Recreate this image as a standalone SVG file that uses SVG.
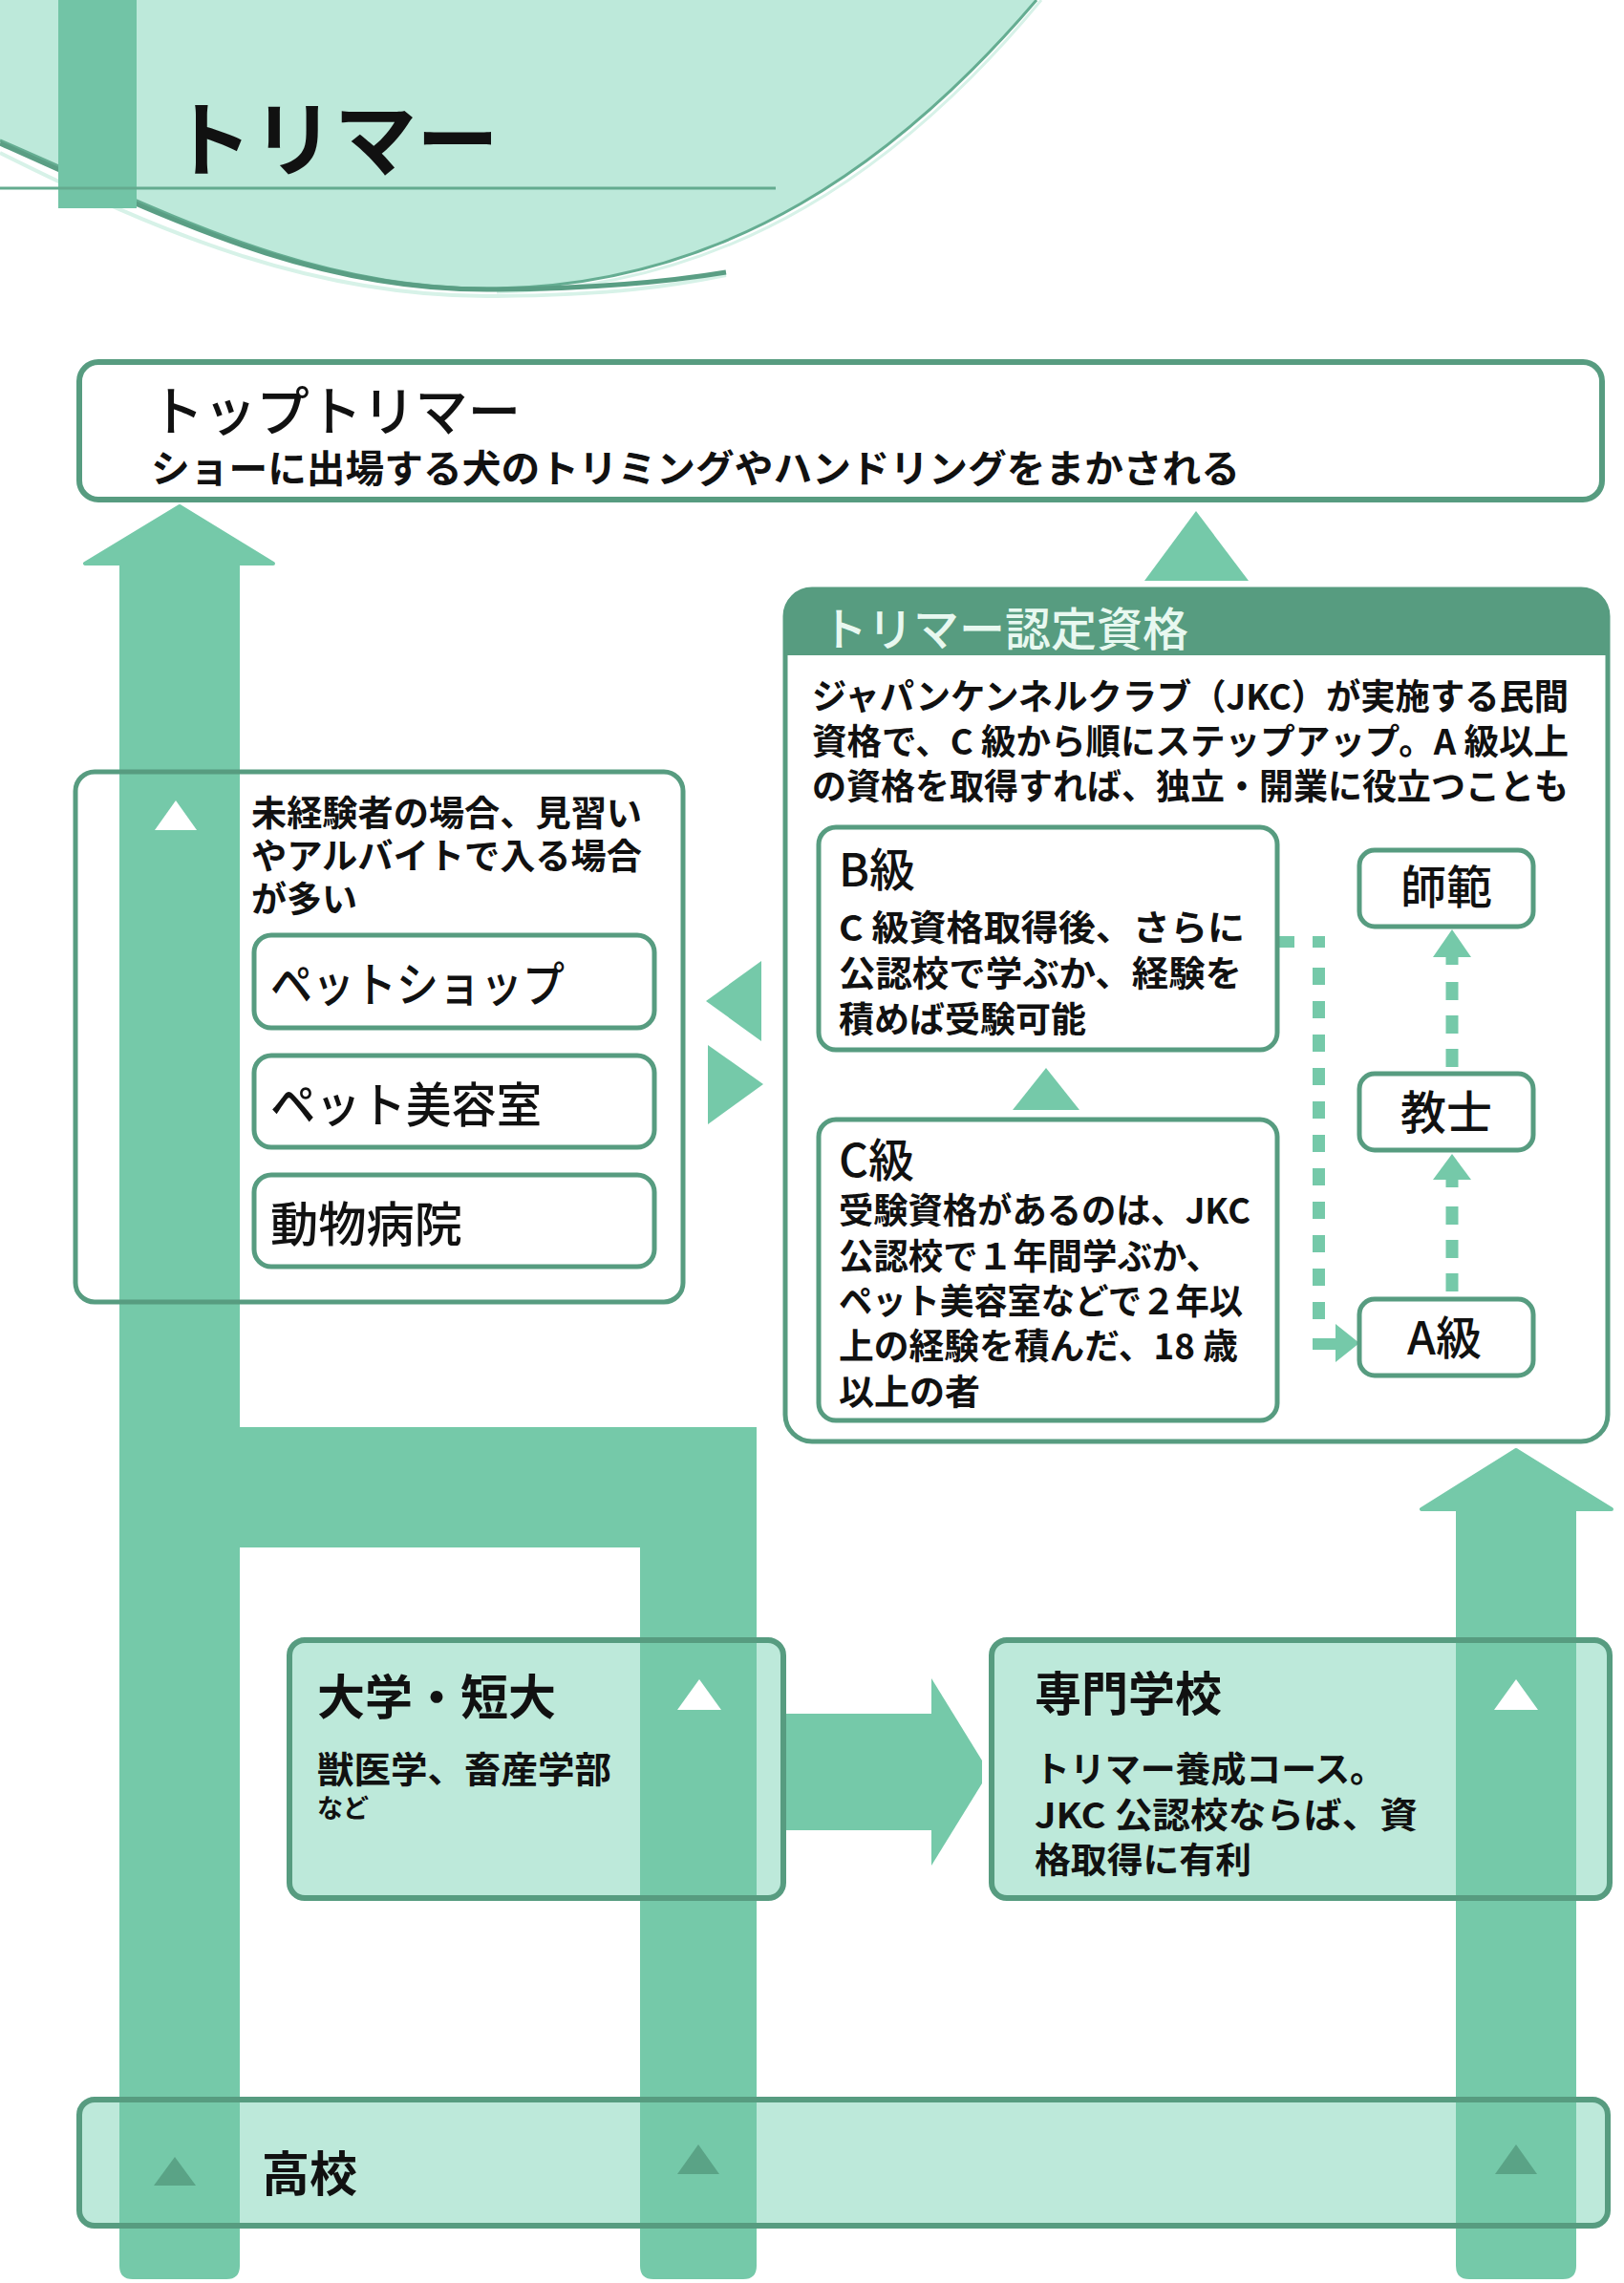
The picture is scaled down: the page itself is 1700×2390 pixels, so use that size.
<svg xmlns="http://www.w3.org/2000/svg" width="1700" height="2390" viewBox="0 0 1700 2390">
<style>
text{font-family:"Noto Sans CJK JP","Noto Sans CJK SC",sans-serif;fill:#111;}
.b{font-weight:700;}
.m{font-weight:500;}
.box{fill:#fff;stroke:#579c80;stroke-width:5;}
.gbox{fill:#bde9da;}
.gstroke{fill:none;stroke:#579c80;stroke-width:6;}
.pil{fill:#75c9a9;}
.dash{fill:#75c9a9;}
.wt{fill:#fff;}
.dt{fill:#5aa386;}
</style>
<rect width="1700" height="2390" fill="#fff"/>
<g id="header">
<path d="M0,0 L0,147 C180,225 330,305 520,302 C760,298 940,170 1085,0 Z" fill="#bde9da"/>
<path d="M0,160 C170,245 330,312 520,310 C640,309 700,300 760,288" fill="none" stroke="#d7f2e8" stroke-width="4"/>
<path d="M0,147 C180,225 330,305 520,302 C760,298 940,170 1085,0" fill="none" stroke="#65ad92" stroke-width="3"/>
<path d="M1090,0 C945,175 765,302 520,306" fill="none" stroke="#d7f2e8" stroke-width="3"/>
<path d="M0,150 C180,230 330,306 520,303 C620,302 700,295 760,285" fill="none" stroke="#5a9e84" stroke-width="5"/>
<rect x="61" y="0" width="82" height="218" fill="#72c4a6"/>
<line x1="0" y1="197" x2="812" y2="197" stroke="#64ab8f" stroke-width="3"/>
<text x="178" y="178" font-size="86" class="b">トリマー</text>
</g>
<g id="boxes-back">
<rect x="303" y="1717" width="517" height="270" rx="16" class="gbox"/>
<rect x="1038" y="1717" width="647" height="270" rx="16" class="gbox"/>
<rect x="83" y="2198" width="1600" height="132" rx="16" class="gbox"/>
</g>
<g id="connectors">
<path class="pil" d="M125,590 L251,590 L251,1494 L792,1494 L792,2372 Q792,2386 778,2386 L684,2386 Q670,2386 670,2372 L670,1620 L251,1620 L251,2372 Q251,2386 237,2386 L139,2386 Q125,2386 125,2372 Z"/>
<polygon class="pil" points="188,530 89,590 286,590" stroke="#75c9a9" stroke-width="4" stroke-linejoin="round"/>
<path class="pil" d="M1524,1578 L1650,1578 L1650,2372 Q1650,2386 1636,2386 L1538,2386 Q1524,2386 1524,2372 Z"/>
<polygon class="pil" points="1587,1518 1488,1580 1687,1580" stroke="#75c9a9" stroke-width="4" stroke-linejoin="round"/>
<polygon class="pil" points="1252,535 1198,608 1307,608"/>
<polygon class="pil" points="739,1048 797,1006 797,1090"/>
<polygon class="pil" points="741,1094 741,1177 799,1135"/>
<rect class="pil" x="820" y="1794" width="157" height="122"/>
<polygon class="pil" points="975,1757 1028,1843 1028,1867 975,1953"/>
</g>
<g id="top-trimmer">
<rect x="83" y="379" width="1594" height="144" rx="20" fill="#fff" stroke="#579c80" stroke-width="6"/>
<text x="158" y="451" font-size="56" class="m" textLength="387" lengthAdjust="spacingAndGlyphs">トップトリマー</text>
<text x="158" y="505" font-size="40" class="b" textLength="1140" lengthAdjust="spacingAndGlyphs">ショーに出場する犬のトリミングやハンドリングをまかされる</text>
</g>
<g id="cert">
<rect x="822" y="617" width="861" height="892" rx="28" class="box"/>
<path d="M822,686 L822,645 Q822,617 850,617 L1655,617 Q1683,617 1683,645 L1683,686 Z" fill="#579c80"/>
<text x="860" y="676" font-size="48" class="m" style="fill:#e8f8f0">トリマー認定資格</text>
<text x="850" y="743" font-size="37" class="b" textLength="792" lengthAdjust="spacingAndGlyphs">ジャパンケンネルクラブ（JKC）が実施する民間</text>
<text x="850" y="790" font-size="37" class="b" textLength="792" lengthAdjust="spacingAndGlyphs">資格で、C 級から順にステップアップ。A 級以上</text>
<text x="850" y="837" font-size="37" class="b" textLength="792" lengthAdjust="spacingAndGlyphs">の資格を取得すれば、独立・開業に役立つことも</text>
</g>
<g id="cert-connectors">
<polygon class="pil" points="1095,1118 1060,1162 1130,1162"/>
<rect class="dash" x="1339" y="980" width="16" height="12"/>
<rect class="dash" x="1374" y="980" width="13" height="12"/>
<path d="M1380.5,1013 V1390" stroke="#75c9a9" stroke-width="13" stroke-dasharray="18 17" fill="none"/>
<rect class="dash" x="1374" y="1401" width="26" height="12"/>
<polygon class="dash" points="1423,1406 1398,1386 1398,1426"/>
<polygon class="dash" points="1520,973 1500,1002 1540,1002"/>
<rect class="dash" x="1513.5" y="1000" width="13" height="10"/>
<path d="M1520,1028 V1120" stroke="#75c9a9" stroke-width="13" stroke-dasharray="19 16" fill="none"/>
<polygon class="dash" points="1520,1208 1500,1235 1540,1235"/>
<rect class="dash" x="1513.5" y="1233" width="13" height="10"/>
<path d="M1520,1263 V1355" stroke="#75c9a9" stroke-width="13" stroke-dasharray="19 16" fill="none"/>
</g>
<g id="grade-b">
<rect x="857" y="866" width="480" height="233" rx="18" class="box"/>
<text x="878" y="928" font-size="48" class="m">B級</text>
<text x="878" y="985" font-size="37" class="b" textLength="425" lengthAdjust="spacingAndGlyphs">C 級資格取得後、さらに</text>
<text x="878" y="1033" font-size="37" class="b" textLength="422" lengthAdjust="spacingAndGlyphs">公認校で学ぶか、経験を</text>
<text x="878" y="1081" font-size="37" class="b">積めば受験可能</text>
</g>
<g id="grade-c">
<rect x="857" y="1172" width="480" height="315" rx="18" class="box"/>
<text x="878" y="1232" font-size="48" class="m">C級</text>
<text x="878" y="1281" font-size="37" class="b" textLength="431" lengthAdjust="spacingAndGlyphs">受験資格があるのは、JKC</text>
<text x="878" y="1329" font-size="37" class="b" textLength="400" lengthAdjust="spacingAndGlyphs">公認校で１年間学ぶか、</text>
<text x="878" y="1376" font-size="37" class="b" textLength="423" lengthAdjust="spacingAndGlyphs">ペット美容室などで２年以</text>
<text x="878" y="1423" font-size="37" class="b" textLength="418" lengthAdjust="spacingAndGlyphs">上の経験を積んだ、18 歳</text>
<text x="878" y="1471" font-size="37" class="b">以上の者</text>
</g>
<g id="shihan">
<rect x="1423" y="890" width="182" height="80" rx="16" class="box"/>
<text x="1514" y="946" font-size="48" class="m" text-anchor="middle">師範</text>
</g>
<g id="kyoshi">
<rect x="1423" y="1124" width="182" height="80" rx="16" class="box"/>
<text x="1514" y="1182" font-size="48" class="m" text-anchor="middle">教士</text>
</g>
<g id="grade-a">
<rect x="1423" y="1360" width="182" height="80" rx="16" class="box"/>
<text x="1512" y="1418" font-size="48" class="m" text-anchor="middle">A級</text>
</g>
<g id="entry">
<rect x="79" y="808" width="636" height="555" rx="20" fill="none" stroke="#579c80" stroke-width="5"/>
<polygon class="wt" points="184,838 162,869 206,869"/>
<text x="263" y="865" font-size="37" class="b" textLength="409" lengthAdjust="spacingAndGlyphs">未経験者の場合、見習い</text>
<text x="263" y="910" font-size="37" class="b" textLength="409" lengthAdjust="spacingAndGlyphs">やアルバイトで入る場合</text>
<text x="263" y="955" font-size="37" class="b">が多い</text>
</g>
<g id="pet-shop">
<rect x="266" y="979" width="419" height="97" rx="18" class="box"/>
<text x="283" y="1049" font-size="50" class="m" textLength="308" lengthAdjust="spacingAndGlyphs">ペットショップ</text>
</g>
<g id="pet-salon">
<rect x="266" y="1105" width="419" height="96" rx="18" class="box"/>
<text x="283" y="1175" font-size="50" class="m" textLength="284" lengthAdjust="spacingAndGlyphs">ペット美容室</text>
</g>
<g id="animal-hospital">
<rect x="266" y="1230" width="419" height="96" rx="18" class="box"/>
<text x="283" y="1300" font-size="50" class="m" textLength="201" lengthAdjust="spacingAndGlyphs">動物病院</text>
</g>
<g id="university">
<rect x="303" y="1717" width="517" height="270" rx="16" class="gstroke" stroke-width="5"/>
<polygon class="wt" points="732,1758 709,1790 755,1790"/>
<text x="332" y="1795" font-size="50" class="b">大学・短大</text>
<text x="332" y="1866" font-size="38" class="b" textLength="308" lengthAdjust="spacingAndGlyphs">獣医学、畜産学部</text>
<text x="332" y="1903" font-size="27" class="b">など</text>
</g>
<g id="vocational">
<rect x="1038" y="1717" width="647" height="270" rx="16" class="gstroke" stroke-width="5"/>
<polygon class="wt" points="1587,1758 1564,1790 1610,1790"/>
<text x="1083" y="1791" font-size="49" class="b">専門学校</text>
<text x="1083" y="1866" font-size="37" class="b" textLength="367" lengthAdjust="spacingAndGlyphs">トリマー養成コース。</text>
<text x="1083" y="1914" font-size="37" class="b" textLength="401" lengthAdjust="spacingAndGlyphs">JKC 公認校ならば、資</text>
<text x="1083" y="1961" font-size="37" class="b" textLength="227" lengthAdjust="spacingAndGlyphs">格取得に有利</text>
</g>
<g id="high-school">
<rect x="83" y="2198" width="1600" height="132" rx="16" class="gstroke"/>
<polygon class="dt" points="183,2258 161,2288 205,2288"/>
<polygon class="dt" points="731,2245 709,2276 753,2276"/>
<polygon class="dt" points="1587,2245 1565,2276 1609,2276"/>
<text x="274" y="2294" font-size="50" class="b">高校</text>
</g>
</svg>
